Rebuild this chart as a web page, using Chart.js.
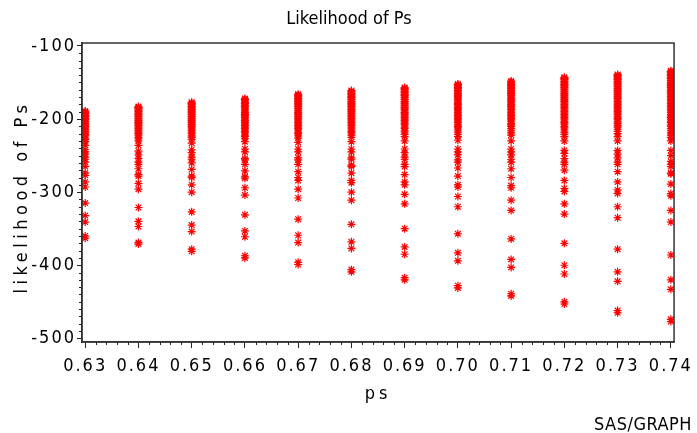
<!DOCTYPE html>
<html>
<head>
<meta charset="utf-8">
<script src="https://cdn.jsdelivr.net/npm/chart.js@4/dist/chart.umd.min.js"></script>
<style>
  html, body { margin: 0; padding: 0; background: #fff; }
  #wrap { width: 697px; height: 433px; }
</style>
</head>
<body>
<div id="wrap"><canvas id="likChart" width="697" height="433"></canvas></div>
<script>
const FONT = '"DejaVu Sans", "Liberation Sans", sans-serif';
const FONT_STRETCH = 'condensed';

// ps grid
const psValues = [0.63, 0.64, 0.65, 0.66, 0.67, 0.68, 0.69, 0.70, 0.71, 0.72, 0.73, 0.74];

// log-likelihood values at each ps
const lik063 = [-189, -190, -191, -192, -193, -195, -196, -197, -199, -200, -201, -203, -204, -206, -207, -209, -210, -212, -214, -215, -217, -219, -221, -223, -226, -228, -231,
  -236, -242, -245, -248, -252, -255, -259, -265, -274, -277, -286, -293, -315, -332, -341, -360, -363];
const lik064 = [-183, -184, -185, -186, -188, -189, -190, -192, -193, -194, -196, -197, -199, -200, -202, -203, -205, -206, -208, -209, -211, -213, -215, -216, -218, -220, -222, -225, -227, -230,
  -236, -244, -249, -254, -259, -262, -268, -276, -278, -288, -296, -321, -340, -347, -369, -371];
const lik065 = [-177, -178, -179, -180, -182, -183, -184, -186, -187, -188, -190, -191, -193, -194, -196, -197, -199, -200, -202, -203, -205, -207, -208, -210, -212, -214, -216, -218, -220, -223, -225, -228,
  -233, -242, -246, -252, -255, -260, -269, -278, -280, -290, -300, -327, -345, -354, -378, -381];
const lik066 = [-172, -173, -174, -175, -177, -178, -179, -181, -182, -183, -185, -186, -188, -189, -191, -192, -194, -195, -197, -198, -200, -202, -203, -205, -207, -209, -211, -213, -215, -217, -219, -222, -224, -227,
  -231, -241, -245, -254, -256, -262, -271, -279, -281, -294, -304, -331, -353, -361, -387, -390];
const lik067 = [-166, -167, -168, -169, -171, -172, -173, -175, -176, -177, -179, -180, -182, -183, -185, -186, -188, -189, -191, -192, -194, -196, -197, -199, -201, -203, -205, -207, -209, -211, -213, -215, -218, -220, -223, -226,
  -232, -241, -245, -253, -256, -262, -272, -280, -284, -296, -308, -337, -359, -369, -396, -399];
const lik068 = [-161, -162, -163, -165, -166, -167, -169, -170, -171, -173, -174, -176, -177, -179, -180, -182, -183, -185, -187, -188, -190, -192, -193, -195, -197, -199, -201, -203, -205, -207, -209, -212, -214, -217, -219, -222, -225,
  -231, -241, -245, -253, -255, -263, -265, -274, -284, -287, -300, -311, -344, -368, -377, -406, -409];
const lik069 = [-157, -158, -159, -160, -162, -163, -164, -166, -167, -168, -170, -171, -173, -174, -176, -177, -179, -181, -182, -184, -185, -187, -189, -191, -192, -194, -196, -198, -200, -202, -204, -206, -208, -211, -213, -216, -218, -221, -224,
  -230, -241, -246, -252, -255, -262, -265, -276, -286, -290, -303, -316, -350, -375, -385, -417, -420];
const lik070 = [-152, -153, -154, -155, -157, -158, -159, -161, -162, -163, -165, -166, -168, -169, -171, -172, -174, -175, -177, -179, -180, -182, -184, -185, -187, -189, -191, -193, -195, -197, -199, -201, -203, -205, -208, -210, -212, -215, -218, -221, -224,
  -229, -241, -245, -249, -256, -259, -267, -278, -290, -293, -306, -320, -357, -383, -394, -428, -431];
const lik071 = [-148, -149, -150, -151, -153, -154, -155, -157, -158, -159, -161, -162, -164, -165, -167, -168, -170, -171, -173, -175, -176, -178, -180, -181, -183, -185, -187, -189, -191, -193, -195, -197, -199, -201, -203, -206, -208, -210, -213, -216, -219, -222,
  -230, -241, -245, -249, -255, -259, -268, -280, -291, -294, -311, -325, -364, -392, -403, -439, -442];
const lik072 = [-143, -144, -145, -146, -148, -149, -150, -152, -153, -154, -156, -157, -159, -160, -162, -163, -165, -166, -168, -170, -171, -173, -175, -176, -178, -180, -182, -184, -186, -188, -190, -192, -194, -196, -198, -200, -203, -205, -207, -210, -212, -215, -218, -221, -224,
  -230, -243, -247, -254, -259, -262, -270, -284, -295, -299, -316, -330, -370, -400, -412, -450, -453];
const lik073 = [-139, -140, -141, -142, -144, -145, -146, -148, -149, -150, -152, -153, -155, -156, -158, -159, -161, -162, -164, -166, -167, -169, -171, -172, -174, -176, -178, -180, -182, -184, -186, -188, -190, -192, -194, -197, -199, -201, -204, -206, -209, -211, -214, -217, -220, -224,
  -230, -243, -248, -253, -259, -262, -272, -286, -297, -302, -320, -335, -378, -409, -422, -462, -465];
const lik074 = [-134, -135, -136, -137, -139, -140, -141, -143, -144, -145, -147, -148, -150, -151, -153, -154, -156, -157, -159, -161, -162, -164, -166, -167, -169, -171, -173, -175, -177, -179, -181, -183, -185, -187, -189, -191, -194, -196, -198, -200, -203, -205, -208, -210, -213, -216, -219, -222, -225,
  -230, -243, -250, -258, -262, -265, -274, -275, -289, -302, -305, -325, -341, -386, -420, -433, -474, -477];

const likColumns = [lik063, lik064, lik065, lik066, lik067, lik068, lik069, lik070, lik071, lik072, lik073, lik074];

// axis ticks
const yTicks = [-500, -400, -300, -200, -100];
const xTickLabels = psValues.map(p => p.toFixed(2));

const points = [];
psValues.forEach((p, i) => {
  likColumns[i].forEach(v => points.push({ x: p, y: v }));
});

// frame, minor ticks and the text around the plot
const sasDecor = {
  id: 'sasDecor',
  beforeDraw(chart) {
    chart.ctx.letterSpacing = '2px';
  },
  afterDraw(chart) {
    const { ctx, chartArea: a, scales: { x, y } } = chart;
    ctx.save();
    ctx.letterSpacing = '0px';
    ctx.strokeStyle = '#222';
    ctx.lineWidth = 1;
    ctx.beginPath();
    for (let v = -500; v <= -100; v += 10) {
      if (v % 100 === 0) continue;
      const py = Math.round(y.getPixelForValue(v)) + 0.5;
      ctx.moveTo(a.left - 3, py);
      ctx.lineTo(a.left, py);
    }
    for (let i = 0; i <= 55; i++) {
      if (i % 5 === 0) continue;
      const px = Math.round(x.getPixelForValue(0.63 + i * 0.002)) + 0.5;
      ctx.moveTo(px, a.bottom);
      ctx.lineTo(px, a.bottom + 3);
    }
    ctx.stroke();

    ctx.strokeStyle = '#333';
    ctx.lineWidth = 1.5;
    ctx.strokeRect(a.left, a.top, a.right - a.left, a.bottom - a.top);

    ctx.fillStyle = '#000';
    ctx.textBaseline = 'middle';
    ctx.font = FONT_STRETCH + ' 18px ' + FONT;

    ctx.textAlign = 'center';
    ctx.letterSpacing = '0px';
    ctx.fillText('Likelihood of Ps', 349, 19);

    ctx.letterSpacing = '4px';
    ctx.fillText('ps', 378, 394);

    ctx.textAlign = 'right';
    ctx.letterSpacing = '0.5px';
    ctx.fillText('SAS/GRAPH', 692, 425);

    ctx.save();
    ctx.translate(22, 197);
    ctx.rotate(-Math.PI / 2);
    ctx.textAlign = 'center';
    ctx.letterSpacing = '4.5px';
    ctx.fillText('likelihood of Ps', 0, 0);
    ctx.restore();

    ctx.restore();
  }
};

new Chart(document.getElementById('likChart').getContext('2d'), {
  type: 'scatter',
  data: {
    datasets: [
      {
        data: points,
        pointStyle: 'star',
        pointRadius: 4,
        pointHoverRadius: 4,
        borderColor: '#ff0000',
        backgroundColor: '#ff0000',
        borderWidth: 1.2,
      },
    ],
  },
  options: {
    responsive: false,
    animation: false,
    events: [],
    layout: { padding: { top: 43, right: 22, left: 0, bottom: 0 } },
    plugins: {
      legend: { display: false },
      tooltip: { enabled: false },
    },
    scales: {
      x: {
        type: 'linear',
        min: 0.6294,
        max: 0.7406,
        afterFit: (scale) => { scale.height = 91; },
        afterBuildTicks: (scale) => {
          scale.ticks = psValues.map(v => ({ value: v }));
        },
        ticks: {
          callback: (v) => xTickLabels[psValues.indexOf(v)] ?? v.toFixed(2),
          autoSkip: false,
          maxRotation: 0,
          padding: 8,
          color: '#000',
          font: { family: FONT, size: 18, weight: FONT_STRETCH },
        },
        grid: { drawOnChartArea: false, tickLength: 6, tickColor: '#222', tickWidth: 1 },
        border: { display: true, color: '#333', width: 1.5 },
      },
      y: {
        type: 'linear',
        min: -505,
        max: -96,
        afterFit: (scale) => { scale.width = 82; },
        afterBuildTicks: (scale) => {
          scale.ticks = yTicks.map(v => ({ value: v }));
        },
        ticks: {
          padding: 1,
          color: '#000',
          font: { family: FONT, size: 18, weight: FONT_STRETCH },
        },
        grid: { drawOnChartArea: false, tickLength: 5, tickColor: '#222', tickWidth: 1 },
        border: { display: true, color: '#333', width: 1.5 },
      },
    },
  },
  plugins: [sasDecor],
});
</script>
</body>
</html>
